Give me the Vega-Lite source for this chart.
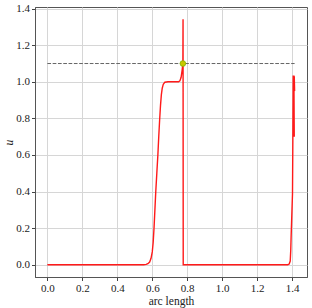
{
  "$schema": "https://vega.github.io/schema/vega-lite/v6.json",
  "width": 272,
  "height": 270,
  "autosize": {"type": "none"},
  "padding": {"left": 35, "top": 7, "right": 5, "bottom": 31},
  "background": "white",
  "config": {
    "view": {"stroke": "#555", "strokeWidth": 1},
    "font": "Liberation Serif",
    "axis": {
      "labelFont": "Liberation Serif",
      "titleFont": "Liberation Serif",
      "labelFontSize": 11,
      "titleFontSize": 11.5,
      "titleFontWeight": "normal",
      "labelColor": "#222",
      "titleColor": "#222",
      "domainColor": "#555",
      "tickColor": "#444",
      "tickSize": 3.5,
      "gridColor": "#d6d6d6",
      "gridWidth": 1,
      "labelOverlap": false,
      "labelFlush": false,
      "labelBound": false
    }
  },
  "datasets": {
    "curve": [
      {"i": 0, "s": 0.0, "u": 0.0},
      {"i": 1, "s": 0.3, "u": 0.0},
      {"i": 2, "s": 0.55, "u": 0.0},
      {"i": 3, "s": 0.565, "u": 0.002},
      {"i": 4, "s": 0.575, "u": 0.006},
      {"i": 5, "s": 0.585, "u": 0.015},
      {"i": 6, "s": 0.593, "u": 0.035},
      {"i": 7, "s": 0.6, "u": 0.07},
      {"i": 8, "s": 0.605, "u": 0.12},
      {"i": 9, "s": 0.61, "u": 0.2},
      {"i": 10, "s": 0.615, "u": 0.3},
      {"i": 11, "s": 0.62, "u": 0.4},
      {"i": 12, "s": 0.626, "u": 0.5},
      {"i": 13, "s": 0.632, "u": 0.6},
      {"i": 14, "s": 0.637, "u": 0.7},
      {"i": 15, "s": 0.642, "u": 0.79},
      {"i": 16, "s": 0.647, "u": 0.87},
      {"i": 17, "s": 0.652, "u": 0.93},
      {"i": 18, "s": 0.657, "u": 0.965},
      {"i": 19, "s": 0.663, "u": 0.987},
      {"i": 20, "s": 0.672, "u": 0.998},
      {"i": 21, "s": 0.69, "u": 1.0},
      {"i": 22, "s": 0.75, "u": 1.0},
      {"i": 23, "s": 0.758, "u": 1.005},
      {"i": 24, "s": 0.765, "u": 1.025},
      {"i": 25, "s": 0.771, "u": 1.065},
      {"i": 26, "s": 0.775, "u": 1.1},
      {"i": 27, "s": 0.776, "u": 1.342},
      {"i": 28, "s": 0.777, "u": 0.0},
      {"i": 29, "s": 0.8, "u": 0.0},
      {"i": 30, "s": 1.2, "u": 0.0},
      {"i": 31, "s": 1.375, "u": 0.0},
      {"i": 32, "s": 1.383, "u": 0.004},
      {"i": 33, "s": 1.389, "u": 0.02},
      {"i": 34, "s": 1.392, "u": 0.08},
      {"i": 35, "s": 1.394, "u": 0.15},
      {"i": 36, "s": 1.398, "u": 0.27},
      {"i": 37, "s": 1.402, "u": 0.39},
      {"i": 38, "s": 1.404, "u": 0.69},
      {"i": 39, "s": 1.406, "u": 1.035},
      {"i": 40, "s": 1.41, "u": 0.7},
      {"i": 41, "s": 1.408, "u": 1.035},
      {"i": 42, "s": 1.412, "u": 0.7},
      {"i": 43, "s": 1.41, "u": 1.035},
      {"i": 44, "s": 1.407, "u": 0.72},
      {"i": 45, "s": 1.412, "u": 1.03},
      {"i": 46, "s": 1.414, "u": 0.95}
    ],
    "ref": [{"s": 0.0, "s1": 1.414, "u": 1.1}],
    "pt": [{"s": 0.775, "u": 1.1}]
  },
  "encoding": {
    "x": {
      "field": "s", "type": "quantitative",
      "scale": {"domain": [-0.0707, 1.4849], "nice": false, "zero": false},
      "axis": {"title": "arc length", "labelFont": "Liberation Serif", "titleFont": "Liberation Serif", "values": [0, 0.2, 0.4, 0.6, 0.8, 1.0, 1.2, 1.4], "format": ".1f", "labelPadding": 2, "titlePadding": 2, "grid": true}
    },
    "y": {
      "field": "u", "type": "quantitative",
      "scale": {"domain": [-0.067, 1.409], "nice": false, "zero": false},
      "axis": {"title": "u", "labelFont": "Liberation Serif", "titleFont": "Liberation Serif", "titleFontStyle": "italic", "titleAngle": -90, "values": [0, 0.2, 0.4, 0.6, 0.8, 1.0, 1.2, 1.4], "format": ".1f", "labelPadding": 2, "titlePadding": 1, "grid": true}
    }
  },
  "layer": [
    {
      "data": {"name": "ref"},
      "mark": {"type": "rule", "color": "#666", "strokeWidth": 1, "strokeDash": [3.7, 1.6]},
      "encoding": {
        "x2": {"field": "s1"}
      }
    },
    {
      "data": {"name": "curve"},
      "mark": {"type": "line", "color": "#ff1a1a", "strokeWidth": 1.4},
      "encoding": {
        "order": {"field": "i", "type": "quantitative"}
      }
    },
    {
      "data": {"name": "pt"},
      "mark": {"type": "point", "filled": true, "color": "#c8c800", "stroke": "#7fb800", "strokeWidth": 0.8, "size": 32, "opacity": 1},
      "encoding": {}
    }
  ]
}
